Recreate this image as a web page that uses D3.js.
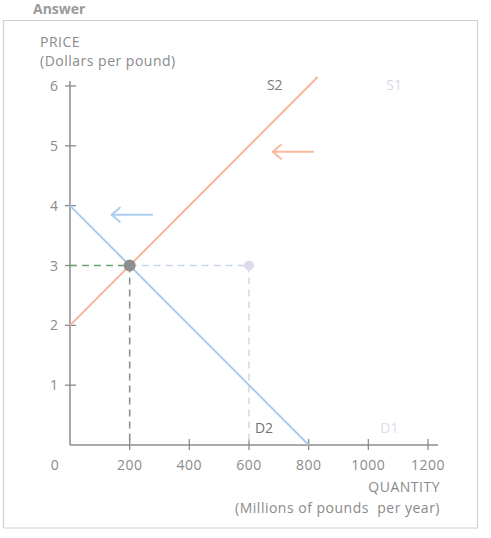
<!DOCTYPE html>
<html><head><meta charset="utf-8">
<script src="https://cdn.jsdelivr.net/npm/d3@7"></script>
<style>body{margin:0;background:#fff}svg{display:block}text{font-family:"Open Sans",Roboto,"DejaVu Sans",sans-serif;white-space:pre}text.t{letter-spacing:0.5px}</style>
</head><body>
<script>
const xTicks = [0, 200, 400, 600, 800, 1000, 1200];
const yTicks = [1, 2, 3, 4, 5, 6];
const supply2 = [{q: 0, p: 2}, {q: 830, p: 6.15}];
const demand2 = [{q: 0, p: 4}, {q: 800, p: 0}];
const eqNew = {q: 200, p: 3};
const eqOld = {q: 600, p: 3};
const curveLabels = [
  {name: "S2", q: 660, p: 5.93, color: "#7a7a7a"},
  {name: "S1", q: 1060, p: 5.93, color: "#d8d8ea"},
  {name: "D2", q: 620, p: 0.2, color: "#727272"},
  {name: "D1", q: 1040, p: 0.2, color: "#dcdcec"}
];
const arrows = [
  {from: 815, to: 680, p: 4.9, color: "#f9b9a0"},
  {from: 275, to: 140, p: 3.85, color: "#abcdee"}
];

const W = 491, H = 538;
const svg = d3.select("body").append("svg").attr("width", W).attr("height", H);
const FS = 14;

// frame
svg.append("path").attr("d", "M3.5,528 V20.5 H477.5 V528 H3.5").attr("fill", "none").attr("stroke", "#cfcfcf").attr("stroke-width", 1.2);
svg.append("text").attr("x", 33).attr("y", 14).text("Answer")
  .attr("font-size", 14).attr("font-weight", "bold").attr("fill", "#9a9a9a");

const x = d3.scaleLinear().domain([0, 1200]).range([70, 428]);
const y = d3.scaleLinear().domain([0, 6]).range([445, 86]);
const axisColor = "#8c8c8c";

// axes lines
svg.append("line").attr("x1", x(0)).attr("x2", x(0)).attr("y1", y(0)).attr("y2", y(6) - 5)
  .attr("stroke", axisColor).attr("stroke-width", 1.5);
svg.append("line").attr("x1", x(0)).attr("x2", x(1200) + 10).attr("y1", y(0)).attr("y2", y(0))
  .attr("stroke", axisColor).attr("stroke-width", 1.5);

// x ticks
xTicks.filter(d => d > 0).forEach(d => {
  svg.append("line").attr("x1", x(d)).attr("x2", x(d)).attr("y1", y(0) - 6).attr("y2", y(0) + 5)
    .attr("stroke", axisColor).attr("stroke-width", 1.3);
});
xTicks.forEach(d => {
  svg.append("text").attr("class", "t").attr("x", d === 0 ? 55 : x(d)).attr("y", 470).attr("text-anchor", "middle")
    .attr("font-size", FS).attr("fill", "#8a8a8a").text(d);
});
// y ticks
yTicks.forEach(d => {
  svg.append("line").attr("x1", x(0) - 5).attr("x2", x(0) + 6).attr("y1", y(d)).attr("y2", y(d))
    .attr("stroke", axisColor).attr("stroke-width", 1.3);
  svg.append("text").attr("x", 58).attr("y", y(d) + 5).attr("text-anchor", "end")
    .attr("font-size", FS).attr("fill", "#8a8a8a").text(d);
});

// axis titles
svg.append("text").attr("class", "t").attr("x", 40).attr("y", 47).attr("font-size", FS).attr("fill", "#8a8a8a").text("PRICE");
svg.append("text").attr("class", "t").attr("x", 40).attr("y", 66).attr("font-size", FS).attr("fill", "#8a8a8a").text("(Dollars per pound)");
svg.append("text").attr("class", "t").attr("x", 440).attr("y", 492).attr("text-anchor", "end").attr("font-size", FS).attr("fill", "#8a8a8a").text("QUANTITY");
svg.append("text").attr("class", "t").attr("x", 440).attr("y", 513).attr("text-anchor", "end").attr("font-size", FS).attr("fill", "#8a8a8a").text("(Millions of pounds  per year)");

// dashed guides
const dash = "7,5";
svg.append("line").attr("x1", x(0)).attr("x2", x(eqNew.q)).attr("y1", y(eqNew.p)).attr("y2", y(eqNew.p))
  .attr("stroke", "#6aa56a").attr("stroke-width", 1.5).attr("stroke-dasharray", dash);
svg.append("line").attr("x1", x(eqNew.q)).attr("x2", x(eqOld.q)).attr("y1", y(eqNew.p)).attr("y2", y(eqOld.p))
  .attr("stroke", "#c9d6ea").attr("stroke-width", 1.5).attr("stroke-dasharray", dash);
svg.append("line").attr("x1", x(eqNew.q)).attr("x2", x(eqNew.q)).attr("y1", y(eqNew.p)).attr("y2", y(0))
  .attr("stroke", "#8a8a8a").attr("stroke-width", 1.5).attr("stroke-dasharray", dash);
svg.append("line").attr("x1", x(eqOld.q)).attr("x2", x(eqOld.q)).attr("y1", y(eqOld.p)).attr("y2", y(0))
  .attr("stroke", "#d6d6e6").attr("stroke-width", 1.5).attr("stroke-dasharray", dash);

// curves
const line = d3.line().x(d => x(d.q)).y(d => y(d.p));
svg.append("path").attr("d", line(demand2)).attr("fill", "none").attr("stroke", "#a9cbec").attr("stroke-width", 2);
svg.append("path").attr("d", line(supply2)).attr("fill", "none").attr("stroke", "#f9b49b").attr("stroke-width", 2);

// points
svg.append("circle").attr("cx", x(eqOld.q)).attr("cy", y(eqOld.p)).attr("r", 5).attr("fill", "#dcdcea");
svg.append("circle").attr("cx", x(eqNew.q)).attr("cy", y(eqNew.p)).attr("r", 6).attr("fill", "#8e8e8e");

// labels
curveLabels.forEach(l => {
  svg.append("text").attr("x", x(l.q)).attr("y", y(l.p)).attr("font-size", FS).attr("fill", l.color).text(l.name);
});

// arrows
arrows.forEach(a => {
  const g = svg.append("g").attr("stroke", a.color).attr("stroke-width", 2).attr("fill", "none").attr("stroke-linecap", "round");
  g.append("line").attr("x1", x(a.from)).attr("x2", x(a.to)).attr("y1", y(a.p)).attr("y2", y(a.p));
  g.append("path").attr("d", `M${x(a.to) + 8},${y(a.p) - 7} L${x(a.to)},${y(a.p)} L${x(a.to) + 8},${y(a.p) + 7}`);
});
</script>
</body></html>
